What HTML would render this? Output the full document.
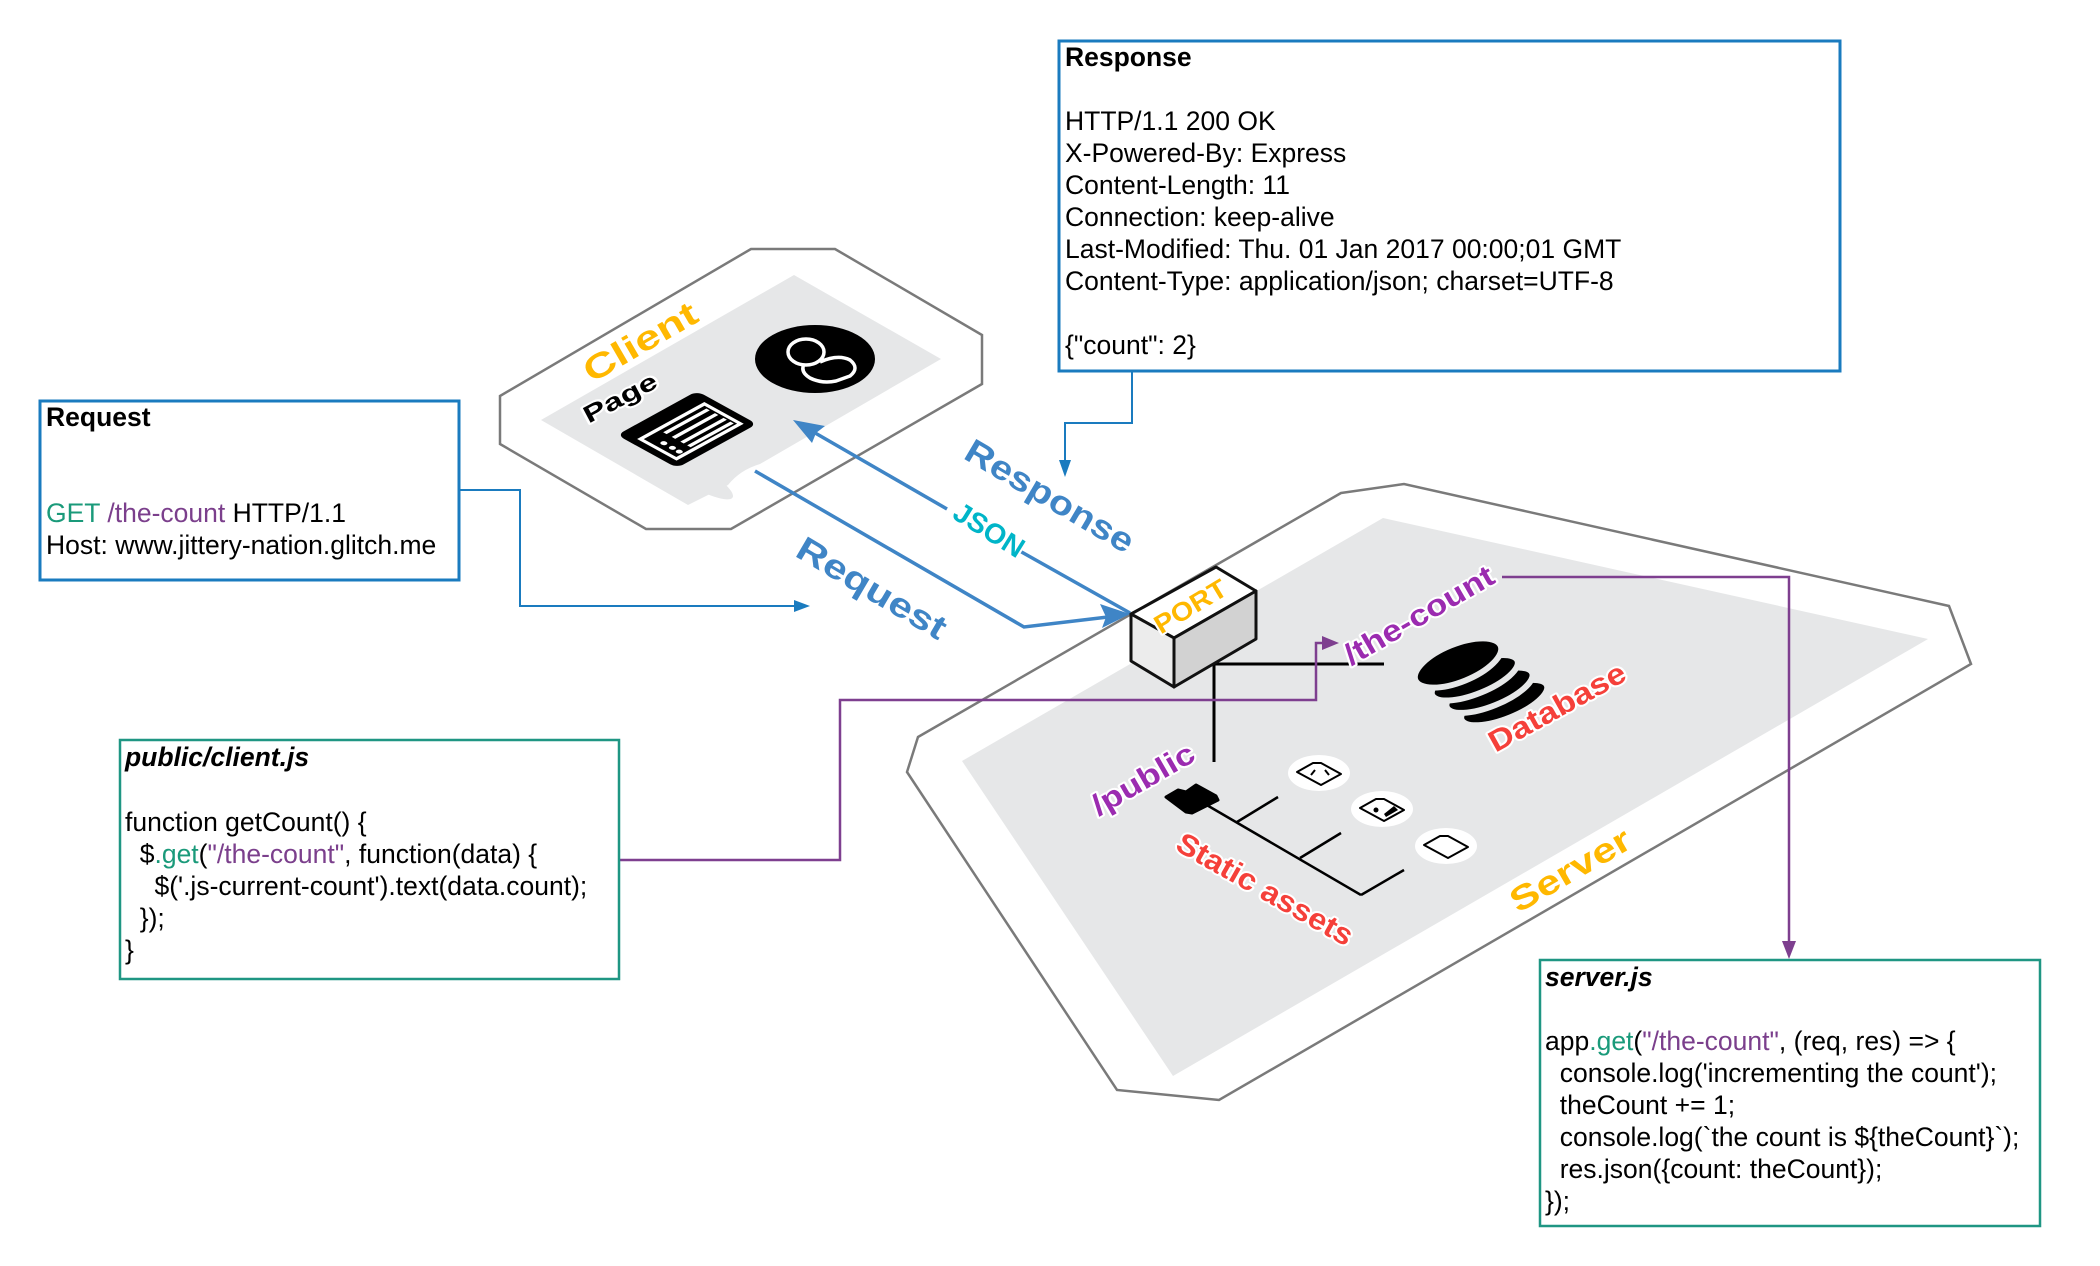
<!DOCTYPE html>
<html><head><meta charset="utf-8">
<style>
html,body{margin:0;padding:0;background:#fff;}
svg{display:block;}
.t{font-family:"Liberation Sans",Arial,sans-serif;font-size:26.5px;fill:#000;}
.lbl{font-family:"Liberation Sans",Arial,sans-serif;font-weight:bold;paint-order:stroke;stroke:#fff;stroke-width:4px;stroke-linejoin:round;}
</style></head>
<body>
<svg width="2100" height="1266" viewBox="0 0 2100 1266" xmlns="http://www.w3.org/2000/svg">
<rect width="2100" height="1266" fill="#fff"/>

<!-- Client octagon -->
<polygon points="751,249 835,249 982,335 982,384 731,529 646,529 500,444 500,396" fill="#fff" stroke="#7a7a7a" stroke-width="2.5"/>
<path d="M794,275 L941,359 L760,464 Q740,470 728,485 L688,505 L541,420 Z" fill="#e6e7e8"/>
<ellipse cx="685" cy="470" rx="55" ry="12" fill="#e6e7e8" transform="rotate(30 685 470)"/>

<!-- Person icon -->
<ellipse cx="815" cy="359" rx="60" ry="34" fill="#000"/>
<g fill="none" stroke="#fff" stroke-width="3.5" stroke-linejoin="round">
  <ellipse cx="806" cy="352" rx="18" ry="13"/>
  <path d="M820,362 Q838,354 850,360 Q860,368 850,376 L836,381 Q822,384 810,378 Q800,372 804,364"/>
</g>

<!-- Page icon -->
<g transform="matrix(0.8,-0.44,0.857,0.471,617,435)">
  <rect x="0" y="0" width="100" height="70" rx="8" fill="#000"/>
  <rect x="8" y="16" width="84" height="46" fill="#fff"/>
  <rect x="12" y="20" width="76" height="38" fill="#000"/>
  <g stroke="#fff" stroke-width="4">
    <line x1="32" y1="26" x2="86" y2="26"/>
    <line x1="32" y1="36" x2="86" y2="36"/>
    <line x1="32" y1="46" x2="86" y2="46"/>
    <line x1="32" y1="54" x2="86" y2="54"/>
  </g>
  <g fill="#fff"><circle cx="20" cy="36" r="3"/><circle cx="20" cy="46" r="3"/><circle cx="20" cy="54" r="3"/></g>
</g>

<text class="lbl" x="0" y="0" font-size="34" fill="#ffb800" textLength="126" lengthAdjust="spacingAndGlyphs" text-anchor="middle" transform="translate(646,352) rotate(-30)">Client</text>
<text class="lbl" x="0" y="0" font-size="24" fill="#000" textLength="80" lengthAdjust="spacingAndGlyphs" text-anchor="middle" transform="translate(624,405) rotate(-28)">Page</text>

<!-- Server polygon -->
<polygon points="1341,493 1404,484 1949,606 1971,664 1219,1100 1117,1090 907,772 918,737" fill="#fff" stroke="#7a7a7a" stroke-width="2.5"/>
<polygon points="1383,518 1928,639 1173,1076 962,761" fill="#e6e7e8"/>

<!-- Request box -->
<rect x="40" y="401" width="419" height="179" fill="#fff" stroke="#1a7bbf" stroke-width="3"/>
<text class="t" x="46" y="426" font-weight="bold">Request</text>
<text class="t" x="46" y="522"><tspan fill="#1a9a7a">GET</tspan> <tspan fill="#7b3f8c">/the-count</tspan> HTTP/1.1</text>
<text class="t" x="46" y="554">Host: www.jittery-nation.glitch.me</text>
<polyline points="459,490 520,490 520,606 796,606" fill="none" stroke="#1a7bbf" stroke-width="2"/>
<polygon points="810,606 794,600 794,612" fill="#1a7bbf"/>

<!-- Response box -->
<rect x="1059" y="41" width="781" height="330" fill="#fff" stroke="#1a7bbf" stroke-width="3"/>
<text class="t" x="1065" y="66" font-weight="bold">Response</text>
<text class="t" x="1065" y="130">HTTP/1.1 200 OK</text>
<text class="t" x="1065" y="162">X-Powered-By: Express</text>
<text class="t" x="1065" y="194">Content-Length: 11</text>
<text class="t" x="1065" y="226">Connection: keep-alive</text>
<text class="t" x="1065" y="258">Last-Modified: Thu. 01 Jan 2017 00:00;01 GMT</text>
<text class="t" x="1065" y="290">Content-Type: application/json; charset=UTF-8</text>
<text class="t" x="1065" y="354">{"count": 2}</text>
<polyline points="1132,371 1132,423 1065,423 1065,462" fill="none" stroke="#1a7bbf" stroke-width="2"/>
<polygon points="1065,477 1059,460 1071,460" fill="#1a7bbf"/>

<!-- Blue arrows -->
<g stroke="#3f85c6" stroke-width="3.5" fill="none">
  <line x1="810" y1="430" x2="947" y2="509"/>
  <line x1="1018" y1="550" x2="1130" y2="613"/>
  <polyline points="755,471 1024,627 1108,617"/>
</g>
<polygon points="793,420 825,426 816,433 812,443" fill="#3f85c6"/>
<polygon points="1130,614 1100,604 1106,617 1102,628" fill="#3f85c6"/>
<text class="lbl" x="0" y="0" font-size="28" fill="#00b5c8" textLength="78" lengthAdjust="spacingAndGlyphs" text-anchor="middle" transform="translate(984,538) rotate(32)">JSON</text>
<text class="lbl" x="0" y="0" font-size="34" fill="#3f85c6" textLength="190" lengthAdjust="spacingAndGlyphs" text-anchor="middle" transform="translate(1044,506) rotate(30.5)">Response</text>
<text class="lbl" x="0" y="0" font-size="34" fill="#3f85c6" textLength="168" lengthAdjust="spacingAndGlyphs" text-anchor="middle" transform="translate(866,598) rotate(30.5)">Request</text>

<!-- Port connections -->
<g stroke="#000" stroke-width="3" fill="none">
  <polyline points="1384,664 1214,664 1214,762"/>
</g>

<!-- PORT box -->
<g stroke="#111" stroke-width="3" stroke-linejoin="round">
  <polygon points="1131,614 1216,567 1256,591 1174,638" fill="#fff"/>
  <polygon points="1131,614 1174,638 1174,687 1131,661" fill="#ececec"/>
  <polygon points="1174,638 1256,591 1256,639 1174,687" fill="#d2d2d2"/>
</g>
<text class="lbl" x="0" y="0" font-size="26" fill="#ffb800" stroke="none" textLength="80" lengthAdjust="spacingAndGlyphs" text-anchor="middle" transform="translate(1195,614) rotate(-31)">PORT</text>

<!-- Purple connectors -->
<polyline points="619,860 840,860 840,700 1316,700 1316,643 1324,643" fill="none" stroke="#7e3f8f" stroke-width="2.5"/>
<polygon points="1339,643 1322,636 1322,650" fill="#7e3f8f"/>
<polyline points="1502,577 1789,577 1789,943" fill="none" stroke="#7e3f8f" stroke-width="2.5"/>
<polygon points="1789,959 1782,941 1796,941" fill="#7e3f8f"/>

<text class="lbl" x="0" y="0" font-size="30" fill="#9b2bb0" textLength="168" lengthAdjust="spacingAndGlyphs" text-anchor="middle" transform="translate(1424,624) rotate(-30)">/the-count</text>

<!-- Database -->
<g transform="rotate(-22 1480 680)" stroke="#e6e7e8" stroke-width="6">
  <ellipse cx="1494" cy="710" rx="46" ry="16" fill="#000"/>
  <ellipse cx="1485" cy="693" rx="46" ry="16" fill="#000"/>
  <ellipse cx="1476" cy="676" rx="46" ry="16" fill="#000"/>
  <ellipse cx="1466" cy="656" rx="46" ry="19" fill="#000"/>
</g>
<text class="lbl" x="0" y="0" font-size="30" fill="#f5403a" textLength="152" lengthAdjust="spacingAndGlyphs" text-anchor="middle" transform="translate(1562,716) rotate(-29)">Database</text>

<!-- /public + tree -->
<text class="lbl" x="0" y="0" font-size="30" fill="#9b2bb0" textLength="114" lengthAdjust="spacingAndGlyphs" text-anchor="middle" transform="translate(1148,788) rotate(-30)">/public</text>
<path d="M1166,797 L1178,790 L1186,792 L1196,785 L1216,796 L1218,800 L1192,813 L1186,812 Z" fill="#000" stroke="#000" stroke-width="3" stroke-linejoin="round"/>
<g stroke="#000" stroke-width="2.5" fill="none">
  <line x1="1205" y1="804" x2="1361" y2="895"/>
  <line x1="1237" y1="822" x2="1278" y2="797"/>
  <line x1="1300" y1="858" x2="1341" y2="833"/>
  <line x1="1361" y1="895" x2="1404" y2="870"/>
</g>
<g fill="#fff">
  <ellipse cx="1319" cy="773" rx="31" ry="18"/>
  <ellipse cx="1382" cy="809" rx="31" ry="18"/>
  <ellipse cx="1446" cy="846" rx="31" ry="18"/>
</g>
<g fill="none" stroke="#000" stroke-width="2" stroke-linejoin="round">
  <path d="M1297,772 L1313,763 L1321,763 L1341,774 L1321,785 Z"/>
  <path d="M1315,770 l-4,5 M1325,770 l4,5"/>
  <path d="M1360,808 L1376,799 L1384,799 L1404,810 L1384,821 Z"/>
  <path d="M1424,845 L1440,836 L1448,836 L1468,847 L1448,858 Z"/>
</g>
<circle cx="1376" cy="810" r="2.5" fill="#000"/>
<path d="M1384,814 L1394,806 L1398,810 L1386,817 Z" fill="#000"/>
<text class="lbl" x="0" y="0" font-size="30" fill="#f5403a" textLength="198" lengthAdjust="spacingAndGlyphs" text-anchor="middle" transform="translate(1260,898) rotate(29.5)">Static assets</text>
<text class="lbl" x="0" y="0" font-size="34" fill="#ffb800" textLength="134" lengthAdjust="spacingAndGlyphs" text-anchor="middle" transform="translate(1576,880) rotate(-30)">Server</text>

<!-- client.js box -->
<rect x="120" y="740" width="499" height="239" fill="#fff" stroke="#1f9683" stroke-width="2.5"/>
<text class="t" x="125" y="766" font-weight="bold" font-style="italic">public/client.js</text>
<text class="t" x="125" y="831">function getCount() {</text>
<text class="t" x="125" y="863" xml:space="preserve">  $<tspan fill="#1a9a7a">.get</tspan>(<tspan fill="#7b3f8c">"/the-count"</tspan>, function(data) {</text>
<text class="t" x="125" y="895" xml:space="preserve">    $('.js-current-count').text(data.count);</text>
<text class="t" x="125" y="927" xml:space="preserve">  });</text>
<text class="t" x="125" y="959">}</text>

<!-- server.js box -->
<rect x="1540" y="960" width="500" height="266" fill="#fff" stroke="#1f9683" stroke-width="2.5"/>
<text class="t" x="1545" y="986" font-weight="bold" font-style="italic">server.js</text>
<text class="t" x="1545" y="1050">app<tspan fill="#1a9a7a">.get</tspan>(<tspan fill="#7b3f8c">"/the-count"</tspan>, (req, res) =&gt; {</text>
<text class="t" x="1545" y="1082" xml:space="preserve">  console.log('incrementing the count');</text>
<text class="t" x="1545" y="1114" xml:space="preserve">  theCount += 1;</text>
<text class="t" x="1545" y="1146" xml:space="preserve">  console.log(`the count is ${theCount}`);</text>
<text class="t" x="1545" y="1178" xml:space="preserve">  res.json({count: theCount});</text>
<text class="t" x="1545" y="1210">});</text>
</svg>
</body></html>
